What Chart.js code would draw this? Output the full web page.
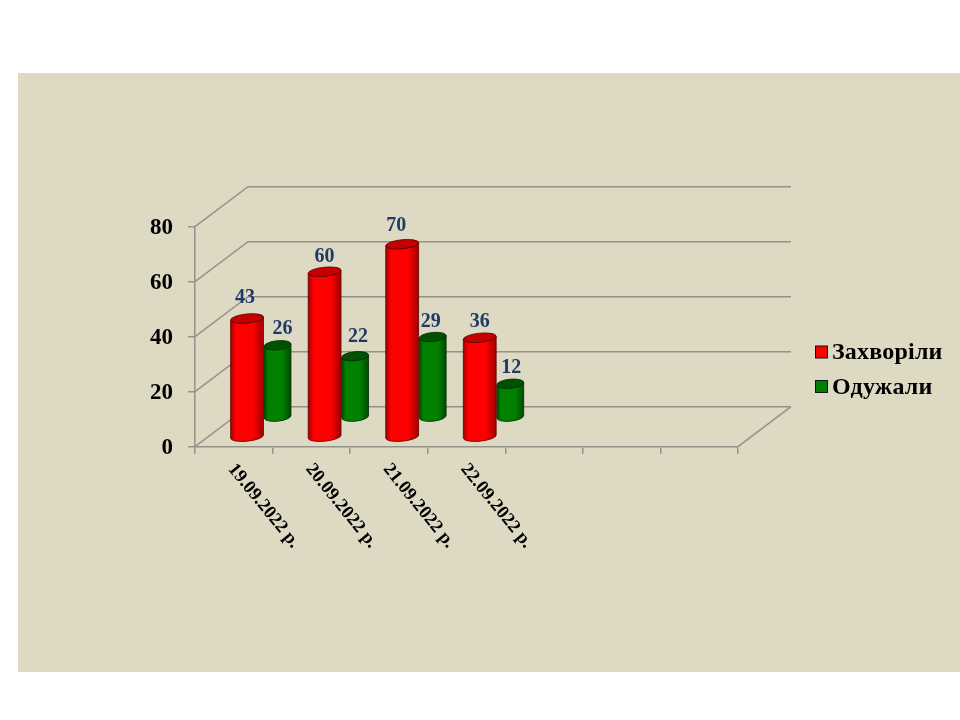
<!DOCTYPE html>
<html>
<head>
<meta charset="utf-8">
<style>
    html, body { margin: 0; padding: 0; background: #fff; }
    canvas { display: block; }
</style>
<script src="https://cdn.jsdelivr.net/npm/chart.js@4/dist/chart.umd.min.js"></script>
</head>
<body>
<canvas id="chart" width="960" height="720"></canvas>
<script>
const categories = ['19.09.2022 р.', '20.09.2022 р.', '21.09.2022 р.', '22.09.2022 р.', '', '', ''];
const zakhvorily = [43, 60, 70, 36];
const odyzhaly = [26, 22, 29, 12];
const yTicks = [0, 20, 40, 60, 80];

const serif = '"Liberation Serif", "Times New Roman", serif';
const lineColor = '#969289';

// 3D look: how far the back wall sits from the front of the axes
const wallDx = 53;
const wallDy = -40;

// per series look of the cylinders
const cylinders = [
    { dx: 13.25, dy: -10, rx: 16.5, edge: '#a00000', mid: '#ff0000', top: '#c40000', line: '#5a0000',
      labelShift: [[-2, -20.5], [0, -14.5], [-6, -18.5], [0, -15.5]] },
    { dx: 43.75, dy: -30, rx: 13.5, edge: '#004a00', mid: '#008200', top: '#005200', line: '#002a00',
      labelShift: [[5, -16.5], [3, -19.5], [-2, -15.5], [1, -15.5]] }
];

function drawCylinder(ctx, cx, topY, baseY, look) {
    const rot = -0.1;
    const ry = 4.5;
    const offX = look.rx * Math.cos(rot);
    const offY = look.rx * Math.sin(rot);

    const grad = ctx.createLinearGradient(cx - look.rx, 0, cx + look.rx, 0);
    grad.addColorStop(0, look.edge);
    grad.addColorStop(0.16, look.mid);
    grad.addColorStop(0.68, look.mid);
    grad.addColorStop(1, look.edge);

    ctx.beginPath();
    ctx.moveTo(cx - offX, topY - offY);
    ctx.lineTo(cx - offX, baseY - offY);
    ctx.ellipse(cx, baseY, look.rx, ry, rot, Math.PI, 0, true);
    ctx.lineTo(cx + offX, topY + offY);
    ctx.ellipse(cx, topY, look.rx, ry, rot, 0, Math.PI, false);
    ctx.closePath();
    ctx.fillStyle = grad;
    ctx.fill();
    ctx.strokeStyle = look.line;
    ctx.lineWidth = 0.8;
    ctx.stroke();

    ctx.beginPath();
    ctx.ellipse(cx, topY, look.rx, ry, rot, 0, Math.PI * 2);
    ctx.fillStyle = look.top;
    ctx.fill();
    ctx.stroke();
}

const scenePlugin = {
    id: 'scene',
    beforeDraw(chart) {
        const ctx = chart.ctx;
        ctx.save();
        ctx.fillStyle = '#ddd9c3';
        ctx.fillRect(18, 73, 942, 599);
        ctx.restore();
    },
    beforeDatasetsDraw(chart) {
        const ctx = chart.ctx;
        const { y } = chart.scales;
        const area = chart.chartArea;
        ctx.save();

        // back wall and side wall lines
        ctx.strokeStyle = lineColor;
        ctx.lineWidth = 1.5;
        yTicks.forEach(v => {
            const py = y.getPixelForValue(v);
            ctx.beginPath();
            ctx.moveTo(area.left, py);
            ctx.lineTo(area.left + wallDx, py + wallDy);
            ctx.lineTo(area.right + wallDx, py + wallDy);
            ctx.stroke();
        });
        ctx.beginPath();
        ctx.moveTo(area.right, area.bottom);
        ctx.lineTo(area.right + wallDx, area.bottom + wallDy);
        ctx.stroke();

        // rear series first so the red ones cover it
        [1, 0].forEach(i => {
            const look = cylinders[i];
            chart.getDatasetMeta(i).data.forEach(bar => {
                drawCylinder(ctx, bar.x + look.dx, bar.y + look.dy, y.getPixelForValue(0) + look.dy, look);
            });
        });

        // value labels
        ctx.font = 'bold 20px ' + serif;
        ctx.fillStyle = '#1f3a68';
        ctx.textAlign = 'center';
        ctx.textBaseline = 'middle';
        [0, 1].forEach(i => {
            const look = cylinders[i];
            chart.getDatasetMeta(i).data.forEach((bar, j) => {
                const shift = look.labelShift[j];
                ctx.fillText(chart.data.datasets[i].data[j], bar.x + look.dx + shift[0], bar.y + look.dy + shift[1]);
            });
        });

        ctx.restore();
        return false; // cylinders replace the flat bars
    },
    afterDraw(chart) {
        const ctx = chart.ctx;
        const { x } = chart.scales;
        ctx.save();

        // slanted date labels
        ctx.font = 'bold 18.5px ' + serif;
        ctx.fillStyle = '#000';
        ctx.textAlign = 'left';
        ctx.textBaseline = 'middle';
        categories.forEach((label, i) => {
            if (!label) return;
            ctx.save();
            ctx.translate(x.getPixelForValue(i) - 2.5, 466);
            ctx.rotate(51 * Math.PI / 180);
            ctx.fillText(label, 0, 0);
            ctx.restore();
        });

        // legend
        ctx.font = 'bold 24px ' + serif;
        ctx.letterSpacing = '0.2px';
        chart.data.datasets.forEach((ds, i) => {
            const top = 346 + i * 34.5;
            ctx.fillStyle = ds.backgroundColor;
            ctx.strokeStyle = '#111';
            ctx.lineWidth = 1;
            ctx.fillRect(815.5, top, 12, 12);
            ctx.strokeRect(815.5, top, 12, 12);
            ctx.fillStyle = '#000';
            ctx.fillText(ds.label, 832, top + 7);
        });
        ctx.restore();
    }
};

new Chart(document.getElementById('chart'), {
    type: 'bar',
    data: {
        labels: categories,
        datasets: [
            { label: 'Захворіли', data: zakhvorily, backgroundColor: '#ff0000', grouped: false },
            { label: 'Одужали', data: odyzhaly, backgroundColor: '#008000', grouped: false }
        ]
    },
    options: {
        responsive: false,
        animation: false,
        layout: { padding: { top: 226.7, right: 222, left: 0, bottom: 0 } },
        plugins: {
            legend: { display: false },
            tooltip: { enabled: false }
        },
        scales: {
            x: {
                afterFit: scale => { scale.height = 273.3; },
                grid: { offset: true, drawOnChartArea: false, tickLength: 7, color: lineColor, lineWidth: 1.5 },
                border: { color: lineColor, width: 1.5 },
                ticks: { display: false }
            },
            y: {
                min: 0,
                max: 80,
                afterFit: scale => { scale.width = 195; },
                afterBuildTicks: scale => { scale.ticks = yTicks.map(v => ({ value: v })); },
                grid: { drawOnChartArea: false, tickLength: 7, color: lineColor, lineWidth: 1.5 },
                border: { color: lineColor, width: 1.5 },
                ticks: {
                    padding: 15,
                    labelOffset: 1.5,
                    color: '#000',
                    font: { family: serif, size: 23, weight: 'bold' }
                }
            }
        }
    },
    plugins: [scenePlugin]
});
</script>
</body>
</html>
